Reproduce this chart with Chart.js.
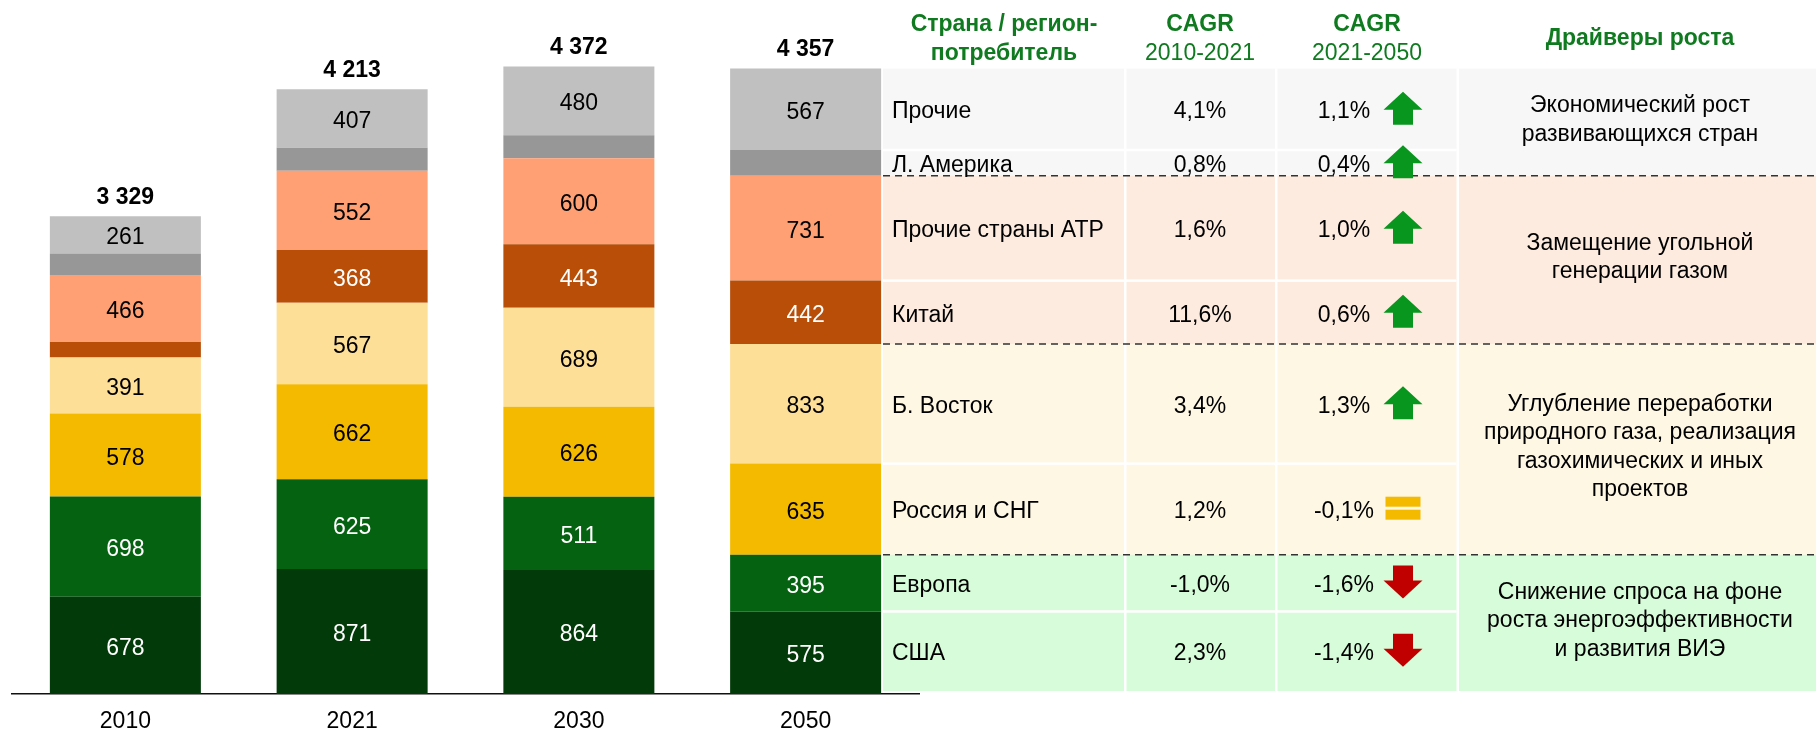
<!DOCTYPE html>
<html>
<head>
<meta charset="utf-8">
<script src="https://cdn.jsdelivr.net/npm/chart.js@4"></script>
<style>
  html, body { margin: 0; padding: 0; background: #fff; }
  #wrap { width: 1816px; height: 730px; }
</style>
</head>
<body>
<div id="wrap"><canvas id="c" width="1816" height="730"></canvas></div>
<script>
// ---- data (bottom-to-top stacking order) ----
const years = ['2010', '2021', '2030', '2050'];
const usa        = [678, 871, 864, 575];
const europe     = [698, 625, 511, 395];
const russiaCis  = [578, 662, 626, 635];
const middleEast = [391, 567, 689, 833];
const china      = [108, 368, 443, 442];
const otherApac  = [466, 552, 600, 731];
const latAm      = [149, 161, 159, 179];
const others     = [261, 407, 480, 567];
const totals     = [3329, 4213, 4372, 4357];

// ---- table (top-to-bottom rows) ----
const regions = ['Прочие', 'Л. Америка', 'Прочие страны АТР', 'Китай', 'Б. Восток', 'Россия и СНГ', 'Европа', 'США'];
const cagr2010_2021 = ['4,1%', '0,8%', '1,6%', '11,6%', '3,4%', '1,2%', '-1,0%', '2,3%'];
const cagr2021_2050 = ['1,1%', '0,4%', '1,0%', '0,6%', '1,3%', '-0,1%', '-1,6%', '-1,4%'];
const trends = ['up', 'up', 'up', 'up', 'up', 'flat', 'down', 'down'];
const driverGroups = [[0, 1], [2, 3], [4, 5], [6, 7]];
const driverTexts = [
  ['Экономический рост', 'развивающихся стран'],
  ['Замещение угольной', 'генерации газом'],
  ['Углубление переработки', 'природного газа, реализация', 'газохимических и иных', 'проектов'],
  ['Снижение спроса на фоне', 'роста энергоэффективности', 'и развития ВИЭ']
];
const headers = [
  { lines: ['Страна / регион-', 'потребитель'], bold: [true, true] },
  { lines: ['CAGR', '2010-2021'], bold: [true, false] },
  { lines: ['CAGR', '2021-2050'], bold: [true, false] },
  { lines: ['Драйверы роста'], bold: [true] }
];

const FONT = '"Liberation Sans", Arial, sans-serif';
const GREEN_HDR = '#0f7a1f';
const groupBg = ['#f7f7f7', '#fdebdf', '#fef7e4', '#d7fcd9'];

const series = [
  { label: 'США', data: usa, color: '#033a09', text: '#fff' },
  { label: 'Европа', data: europe, color: '#056210', text: '#fff' },
  { label: 'Россия и СНГ', data: russiaCis, color: '#f4ba00', text: '#000' },
  { label: 'Б. Восток', data: middleEast, color: '#fddf97', text: '#000' },
  { label: 'Китай', data: china, color: '#b84e08', text: '#fff' },
  { label: 'Прочие страны АТР', data: otherApac, color: '#ffa074', text: '#000' },
  { label: 'Л. Америка', data: latAm, color: '#979797', text: '#000' },
  { label: 'Прочие', data: others, color: '#c0c0c0', text: '#000' }
];

function fmt(n) {
  return String(n).replace(/\B(?=(\d{3})+(?!\d))/g, ' ');
}

function drawArrow(ctx, type, cx, cy) {
  if (type === 'flat') {
    ctx.fillStyle = '#f4ba00';
    ctx.fillRect(cx - 17.5, cy - 11.5, 35, 10);
    ctx.fillRect(cx - 17.5, cy + 1.5, 35, 10);
    return;
  }
  const s = type === 'up' ? 1 : -1;
  ctx.fillStyle = type === 'up' ? '#08961e' : '#c00000';
  ctx.beginPath();
  ctx.moveTo(cx, cy - 16.5 * s);
  ctx.lineTo(cx + 19.5, cy + 1.5 * s);
  ctx.lineTo(cx + 10, cy + 1.5 * s);
  ctx.lineTo(cx + 10, cy + 16.5 * s);
  ctx.lineTo(cx - 10, cy + 16.5 * s);
  ctx.lineTo(cx - 10, cy + 1.5 * s);
  ctx.lineTo(cx - 19.5, cy + 1.5 * s);
  ctx.closePath();
  ctx.fill();
}

const labelsPlugin = {
  id: 'labelsAndTable',
  afterDatasetsDraw(chart) {
    const ctx = chart.ctx;
    ctx.save();
    // segment values
    ctx.textAlign = 'center';
    ctx.textBaseline = 'alphabetic';
    ctx.font = '23px ' + FONT;
    series.forEach((s, di) => {
      const meta = chart.getDatasetMeta(di);
      meta.data.forEach((el, i) => {
        const v = s.data[i];
        if (v < 200) return;
        ctx.fillStyle = s.text;
        ctx.fillText(String(v), el.x, (el.y + el.base) / 2 + 9.5);
      });
    });
    // totals
    ctx.font = 'bold 23px ' + FONT;
    ctx.fillStyle = '#000';
    const topMeta = chart.getDatasetMeta(series.length - 1);
    topMeta.data.forEach((el, i) => {
      ctx.fillText(fmt(totals[i]), el.x, el.y - 12.5);
    });

    // ---- table aligned with 2050 bar ----
    const col = 3;
    const rowTop = [], rowBot = [];
    regions.forEach((r, ri) => {
      const el = chart.getDatasetMeta(series.length - 1 - ri).data[col];
      rowTop.push(el.y);
      rowBot.push(el.base);
    });
    const last = regions.length - 1;
    rowBot[last] = rowBot[last] - 3;
    const X0 = 883, X1 = 1816;

    driverGroups.forEach((g, gi) => {
      ctx.fillStyle = groupBg[gi];
      const t = rowTop[g[0]], b = rowBot[g[g.length - 1]];
      ctx.fillRect(X0, t, X1 - X0, b - t);
    });
    // white vertical separators
    ctx.fillStyle = '#fff';
    const tTop = rowTop[0], tBot = rowBot[last];
    [[1124, 1126.5], [1275, 1277.5], [1456.5, 1459]].forEach(([a, b]) => {
      ctx.fillRect(a, tTop, b - a, tBot - tTop);
    });
    // white horizontal separators inside groups (cols 1-3)
    driverGroups.forEach(g => {
      for (let k = 1; k < g.length; k++) {
        const y = rowTop[g[k]];
        ctx.fillRect(X0, y - 1.25, 1456.5 - X0, 2.5);
      }
    });
    // dashed group boundaries
    ctx.strokeStyle = '#333';
    ctx.lineWidth = 1.5;
    ctx.setLineDash([7, 5]);
    driverGroups.forEach((g, gi) => {
      if (gi === 0) return;
      const y = rowTop[g[0]];
      ctx.beginPath();
      ctx.moveTo(X0, y);
      ctx.lineTo(X1, y);
      ctx.stroke();
    });
    ctx.setLineDash([]);

    // row texts
    ctx.font = '23px ' + FONT;
    regions.forEach((r, ri) => {
      const cy = (rowTop[ri] + rowBot[ri]) / 2 + 1;
      ctx.fillStyle = '#000';
      ctx.textAlign = 'left';
      ctx.fillText(r, 892, cy + 8.2);
      ctx.textAlign = 'center';
      ctx.fillText(cagr2010_2021[ri], 1200, cy + 8.2);
      ctx.fillText(cagr2021_2050[ri], 1344, cy + 8.2);
      drawArrow(ctx, trends[ri], 1403, cy - 2);
    });
    // drivers
    ctx.fillStyle = '#000';
    ctx.textAlign = 'center';
    driverGroups.forEach((g, gi) => {
      const t = rowTop[g[0]], b = rowBot[g[g.length - 1]];
      const mid = (t + b) / 2 - 4;
      const lines = driverTexts[gi];
      const lh = 28.5;
      lines.forEach((ln, li) => {
        const cy = mid + (li - (lines.length - 1) / 2) * lh;
        ctx.fillText(ln, 1640, cy + 8.2);
      });
    });
    // headers
    const hdrX = [1004, 1200, 1367, 1640];
    ctx.fillStyle = GREEN_HDR;
    headers.forEach((h, hi) => {
      const ys = h.lines.length === 2 ? [23, 52] : [37];
      h.lines.forEach((ln, li) => {
        ctx.font = (h.bold[li] ? 'bold ' : '') + '23px ' + FONT;
        ctx.fillText(ln, hdrX[hi], ys[li] + 8.2);
      });
    });
    ctx.restore();
  }
};

new Chart(document.getElementById('c'), {
  type: 'bar',
  data: {
    labels: years,
    datasets: series.map(s => ({
      label: s.label,
      data: s.data,
      backgroundColor: s.color,
      borderWidth: 0,
      categoryPercentage: 1,
      barPercentage: 0.666
    }))
  },
  options: {
    responsive: false,
    animation: false,
    devicePixelRatio: 1,
    layout: { padding: { left: 12, right: 897, top: 5, bottom: 0 } },
    plugins: { legend: { display: false }, tooltip: { enabled: false } },
    scales: {
      x: {
        stacked: true,
        grid: { display: false, drawTicks: false },
        border: { display: true, color: '#111', width: 1.5 },
        ticks: { color: '#000', font: { family: FONT, size: 23 }, padding: 14 },
        afterFit(scale) { scale.height = 36; }
      },
      y: {
        stacked: true,
        display: false,
        min: 0,
        max: 4800
      }
    }
  },
  plugins: [labelsPlugin]
});
</script>
</body>
</html>
